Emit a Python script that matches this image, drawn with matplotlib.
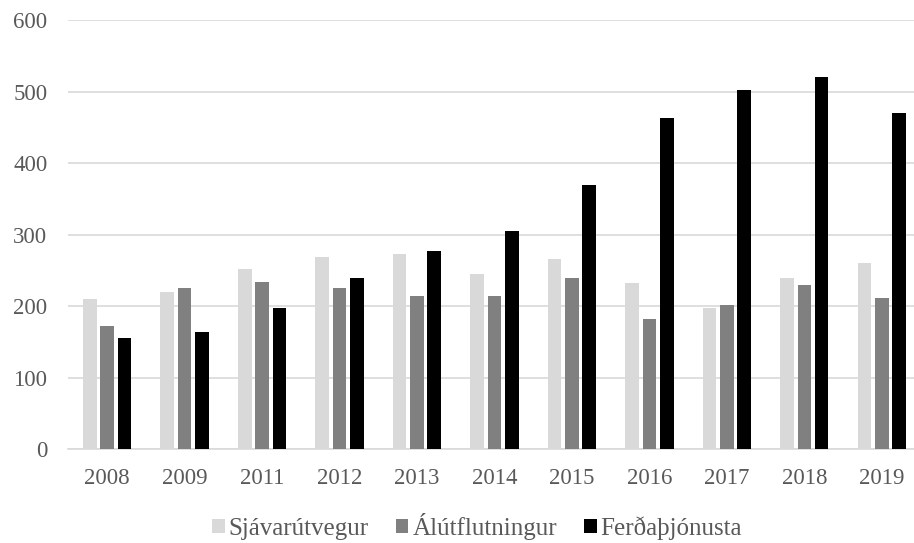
import numpy as np
import matplotlib.pyplot as plt

plt.rcParams['font.family'] = ['Liberation Serif', 'DejaVu Serif']

years = ["2008", "2009", "2011", "2012", "2013", "2014", "2015", "2016", "2017", "2018", "2019"]
sjavarutvegur = [210, 220, 252, 269, 273, 245, 266, 232, 197, 240, 260]
alutflutningur = [172, 226, 234, 226, 215, 215, 240, 182, 202, 230, 212]
ferdathjonusta = [156, 164, 197, 240, 277, 305, 370, 463, 502, 520, 470]

series = [
    ("Sjávarútvegur", sjavarutvegur, "#d9d9d9"),
    ("Álútflutningur", alutflutningur, "#808080"),
    ("Ferðaþjónusta", ferdathjonusta, "#000000"),
]

fig = plt.figure(figsize=(9.14, 5.43), dpi=100)
ax = fig.add_axes([0.0747, 0.1722, 0.9326, 0.791])

x = np.arange(len(years))
step = 0.223
width = 0.175
for i, (name, vals, col) in enumerate(series):
    ax.bar(x + (i - 1) * step, vals, width, color=col, label=name, zorder=3)

ax.set_xlim(-0.5, len(years) - 0.5)
ax.set_ylim(0, 600)
ax.set_yticks(range(0, 601, 100))
ax.set_xticks(x)
ax.set_xticklabels(years)

txt = "#595959"
ax.tick_params(axis="both", length=0, labelsize=16.5, labelcolor=txt)
ax.tick_params(axis="y", pad=15)
ax.tick_params(axis="x", pad=13)
ax.grid(axis="y", color="#d9d9d9", linewidth=1.2, zorder=0)
for s in ["top", "right", "left"]:
    ax.spines[s].set_visible(False)
ax.spines["bottom"].set_color("#d9d9d9")
ax.spines["bottom"].set_linewidth(1.2)

fig.legend(loc="center", bbox_to_anchor=(0.522, 0.03), ncol=3, frameon=False,
           fontsize=18, labelcolor=txt, handlelength=0.5, handleheight=0.5,
           handletextpad=0.15, columnspacing=1.1)

fig.savefig("out.png", dpi=100)
